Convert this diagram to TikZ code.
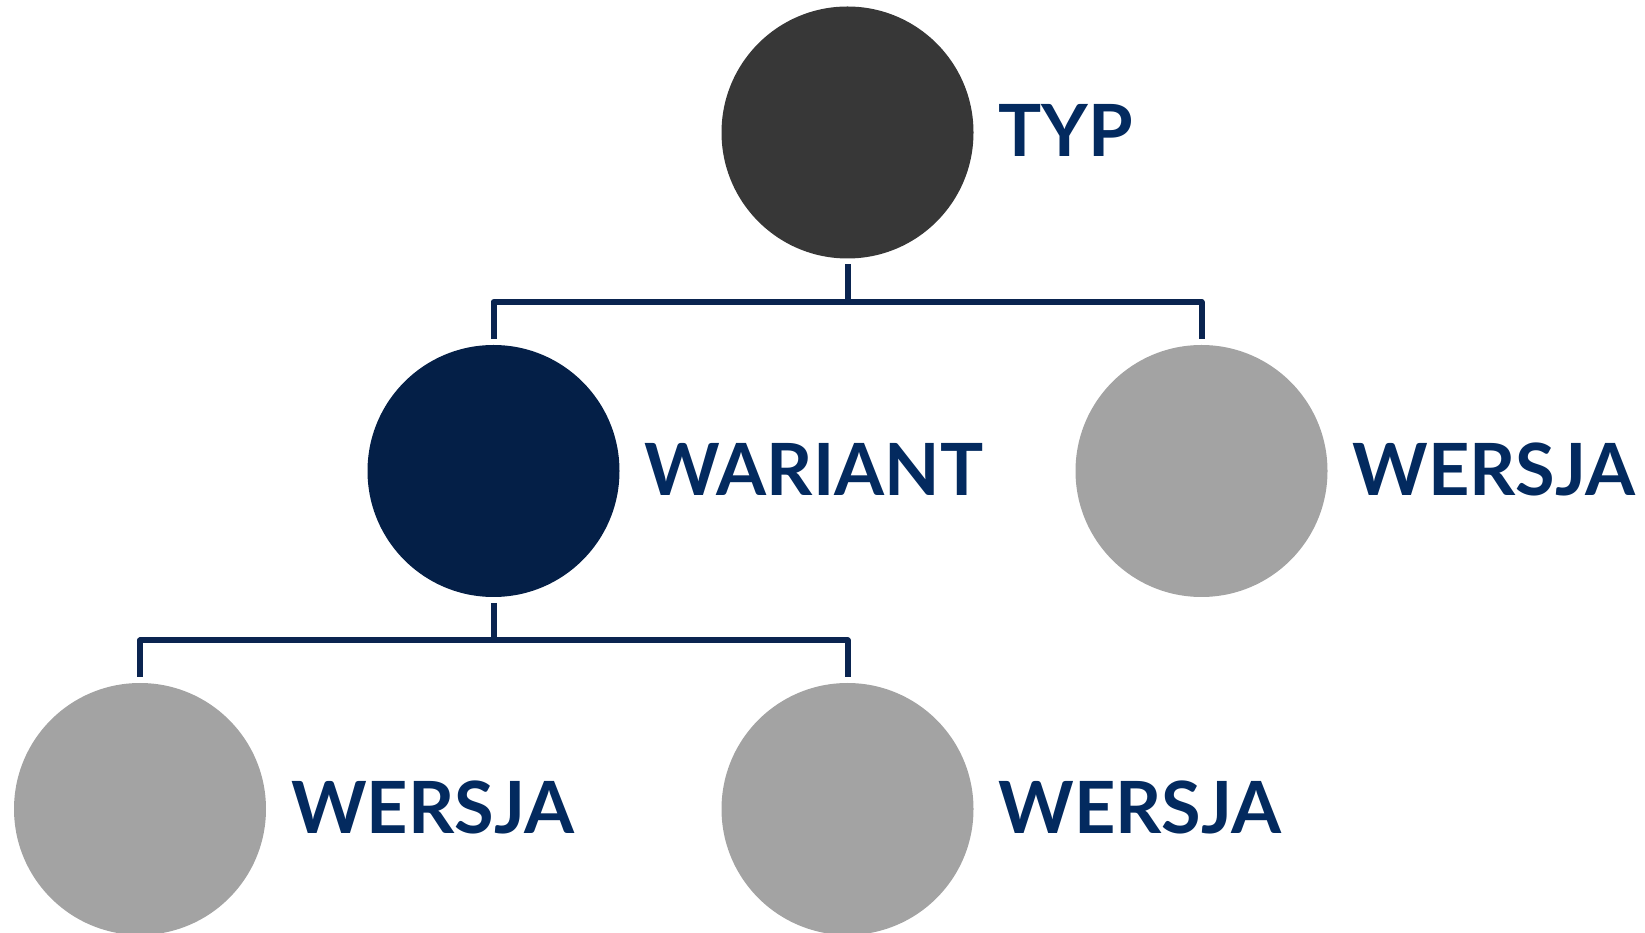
\documentclass[tikz,border=0pt]{standalone}
\usepackage{fontspec}
\setmainfont{Lato}
\usetikzlibrary{positioning}
\definecolor{typgrey}{HTML}{373737}
\definecolor{wariantnavy}{HTML}{041F47}
\definecolor{labelblue}{HTML}{032A5F}
\definecolor{linkblue}{HTML}{0A2450}
\definecolor{wersjagrey}{HTML}{A3A3A3}

\begin{document}
\begin{tikzpicture}[
	blob/.style={circle, minimum size=5.04cm, inner sep=0pt, outer sep=0.12cm},
	lbl/.style={right=0.38cm of #1, inner sep=0pt, outer sep=0pt, yshift=0.04cm,
		text=labelblue, font=\fontsize{41}{48}\selectfont\bfseries},
	link/.style={draw=linkblue, line width=0.12cm, line join=round}
]
	%%%%% START %%%%%
	
	\useasboundingbox (0, 0) rectangle (32.9, -18.66);
	
	\node[blob, fill=typgrey] (typ) at (16.95, -2.65) {};
	\node[blob, fill=wariantnavy] (wariant) at (9.87, -9.42) {};
	\node[blob, fill=wersjagrey] (wersjaA) at (24.03, -9.42) {};
	\node[blob, fill=wersjagrey] (wersjaB) at (2.8, -16.18) {};
	\node[blob, fill=wersjagrey] (wersjaC) at (16.95, -16.18) {};
	
	\node[lbl=typ] (typtxt) {TYP};
	\node[lbl=wariant] (warianttxt) {WARIANT};
	\node[lbl=wersjaA] (wersjaAtxt) {WERSJA};
	\node[lbl=wersjaB] (wersjaBtxt) {WERSJA};
	\node[lbl=wersjaC] (wersjaCtxt) {WERSJA};
	
	\coordinate (bus1) at ([yshift=-0.75cm]typ.south);
	\coordinate (bus2) at ([yshift=-0.75cm]wariant.south);
	
	\draw[link] (typ.south) -- (bus1);
	\draw[link] (wariant.north) |- (bus1) -| (wersjaA.north);
	
	\draw[link] (wariant.south) -- (bus2);
	\draw[link] (wersjaB.north) |- (bus2) -| (wersjaC.north);
	
	%%%%% END %%%%%
\end{tikzpicture}
\end{document}
